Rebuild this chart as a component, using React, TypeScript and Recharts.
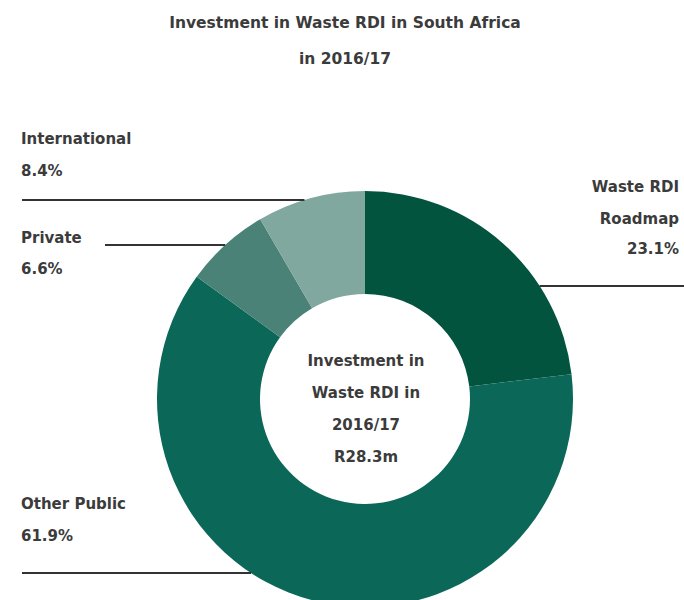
import React from "react";
import { PieChart, Pie, Cell } from "recharts";

// shares of investment, clockwise from 12 o'clock
const names = ["Waste RDI Roadmap", "Other Public", "Private", "International"];
const shares = [23.1, 61.9, 6.6, 8.4];
const COLORS = ["#02543f", "#0b6757", "#4b8277", "#80a89e"];

const titleLines = ["Investment in Waste RDI in South Africa", "in 2016/17"];
const centerLines = ["Investment in", "Waste RDI in", "2016/17", "R28.3m"];

const data = names.map((name, i) => ({ name, value: shares[i] }));

const FONT = "'DejaVu Sans', sans-serif";
const TEXT = "#3b3b3b";

// where each callout sits: text lines + a horizontal leader running to the ring
const callouts: Record<string, any> = {
  "Waste RDI Roadmap": { side: "right", textX: 679, textY: [192, 224, 254], lines: ["Waste RDI", "Roadmap"], lineY: 286, lineEnd: 684 },
  "Other Public": { side: "left", textX: 21, textY: [509, 541], lines: ["Other Public"], lineY: 573, lineEnd: 22 },
  Private: { side: "left", textX: 21, textY: [243, 274], lines: ["Private"], lineY: 245, lineEnd: 105 },
  International: { side: "left", textX: 21, textY: [144, 176], lines: ["International"], lineY: 200, lineEnd: 22 },
};

const renderLabel = (props: any) => {
  const { cx, cy, outerRadius, name, value } = props;
  const c = callouts[name];
  if (!c) return null;
  const dy = c.lineY - cy;
  const dx = Math.sqrt(Math.max(outerRadius * outerRadius - dy * dy, 0));
  const ringX = c.side === "left" ? cx - dx : cx + dx;
  const anchor = c.side === "left" ? "start" : "end";
  const texts = [...c.lines, `${value.toFixed(1)}%`];
  return (
    <g>
      <line x1={c.lineEnd} y1={c.lineY} x2={ringX} y2={c.lineY} stroke="#333" strokeWidth={2} />
      {texts.map((t: string, i: number) => (
        <text key={i} x={c.textX} y={c.textY[i]} textAnchor={anchor} fill={TEXT} fontSize={15} fontWeight="bold" fontFamily={FONT}>
          {t}
        </text>
      ))}
    </g>
  );
};

export default function App() {
  return (
    <div style={{ position: "absolute", left: 0, top: 0, width: 684, height: 600, overflow: "hidden" }}>
      <PieChart width={684} height={600} margin={{ top: 0, right: 0, bottom: 0, left: 0 }}>
        {titleLines.map((t, i) => (
          <text key={t} x={345} y={28 + i * 36} textAnchor="middle" fill={TEXT} fontSize={15.5} fontWeight="bold" fontFamily={FONT}>
            {t}
          </text>
        ))}
        <Pie
          data={data}
          dataKey="value"
          nameKey="name"
          cx={365}
          cy={399}
          innerRadius={105}
          outerRadius={208}
          startAngle={90}
          endAngle={-270}
          stroke="none"
          label={renderLabel}
          labelLine={false}
          isAnimationActive={false}
        >
          {data.map((d, i) => (
            <Cell key={d.name} fill={COLORS[i]} />
          ))}
        </Pie>
        {centerLines.map((t, i) => (
          <text key={t} x={366} y={366 + i * 32} textAnchor="middle" fill={TEXT} fontSize={15} fontWeight="bold" fontFamily={FONT}>
            {t}
          </text>
        ))}
      </PieChart>
    </div>
  );
}
